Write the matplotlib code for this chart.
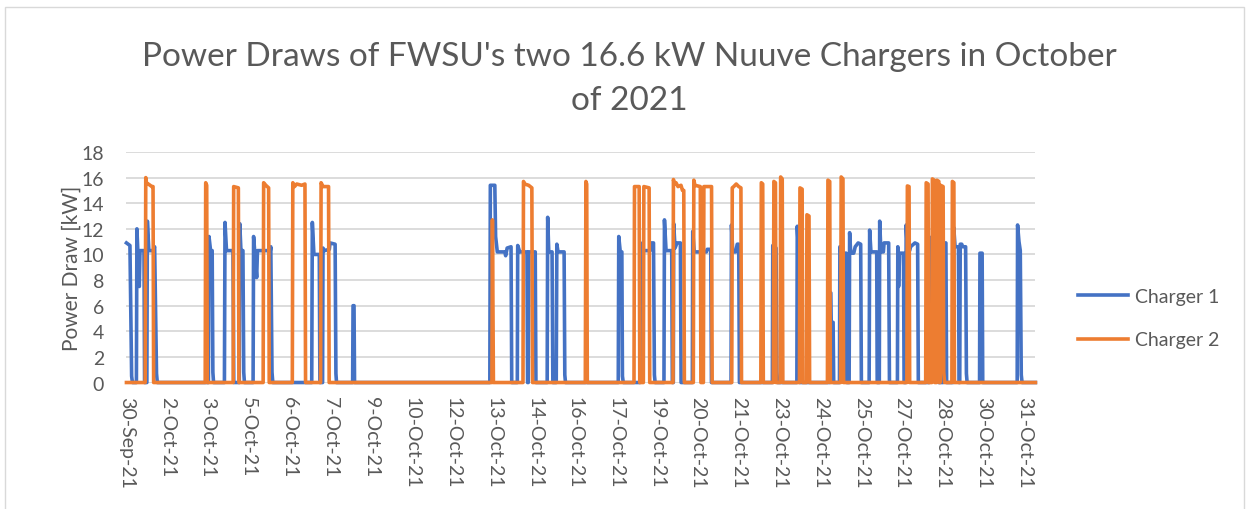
import matplotlib.pyplot as plt
from matplotlib.patches import Rectangle

# readings index: one tick label every 41 readings
tick_labels = ["30-Sep-21", "2-Oct-21", "3-Oct-21", "5-Oct-21", "6-Oct-21", "7-Oct-21",
               "9-Oct-21", "10-Oct-21", "12-Oct-21", "13-Oct-21", "14-Oct-21", "16-Oct-21",
               "17-Oct-21", "19-Oct-21", "20-Oct-21", "21-Oct-21", "23-Oct-21", "24-Oct-21",
               "25-Oct-21", "27-Oct-21", "28-Oct-21", "30-Oct-21", "31-Oct-21"]
readings_per_label = 41
n_readings = 913

# Charger 1 (reading index, kW)
c1_x = [0, 3.5, 5.2, 6,
        10, 10.5, 12.9, 13.6, 17.6, 18.2,
        20.5, 21, 22.5, 26.6, 28.3, 30.2, 31,
        82.3, 82.9, 84.5, 86.1, 86.8, 87.5,
        98.4, 99, 100.5, 107, 107.8,
        113.3, 113.8, 115, 117, 117.8, 118.5,
        127.2, 127.7, 130.8, 131.6, 137, 144.5, 145, 146.2, 147,
        186.1, 186.7, 188.3, 193.7, 194.3,
        197, 197.4, 199, 203.8, 204.5, 209.6, 210.4, 211,
        227.2, 227.6, 228.6, 229.1,
        365, 365.5, 370, 370.8, 372.5, 380, 380.9, 382.4, 386.3, 387,
        392.6, 393, 395, 402.3, 402.9, 403.6, 404.2, 410.6, 411.3,
        422.6, 423.1, 424.2, 427.5, 428.3, 431.7, 432.3, 433.5, 439.6, 440.3, 441,
        494, 494.5, 496, 497.6, 498.2, 499,
        515.8, 516.3, 519.4, 526, 527, 529.4, 530.3, 531,
        539.9, 540.4, 542, 547.7, 548.3,
        549.3, 549.7, 551, 553, 556.4, 557.1,
        568.4, 568.8, 570.3, 577.5, 578.1, 578.8, 582.6, 583.3, 586.9, 587.6,
        607.3, 607.7, 609, 612, 613.5, 615, 615.7,
        648.8, 649.2, 652.5, 653.3, 654,
        673.4, 673.8, 675, 675.9, 676.4,
        706.3, 706.7, 707.5, 707.9, 709.8, 710.4,
        716.2, 716.6, 717.8, 723, 723.6, 725.9, 726.4, 727.5, 730.5, 732, 735, 737.5, 738.2,
        746, 746.5, 747.8, 753.6, 754.1,
        756.2, 756.6, 757.8, 760.3, 761, 765.6, 766.4,
        774.4, 774.8, 775.6, 776.6, 780.5, 781.1,
        782.7, 783.2, 784.4, 786.7, 787.6, 792, 794.7, 795.4,
        806.3, 806.7, 808, 813, 813.5, 815.2, 815.8,
        820.3, 820.8, 823.1, 823.8,
        830.5, 831, 832.3, 835.7, 836.3, 837, 837.5, 839, 840, 842.9, 843.7, 844.4,
        856.9, 857.3, 859.5, 860.1,
        894.7, 895.1, 896.5, 897.8, 898.8, 899.6,
        913]
c1_kw = [10.9, 10.7, 0.5, 0,
         0, 12.0, 7.5, 10.3, 10.3, 0,
         0, 12.6, 10.3, 10.3, 10.6, 0.7, 0,
         0, 11.4, 10.3, 10.3, 0.8, 0,
         0, 12.5, 10.3, 10.3, 0,
         0, 12.4, 10.3, 10.3, 0.8, 0,
         0, 11.4, 8.2, 10.3, 10.3, 10.3, 10.6, 0.8, 0,
         0, 12.5, 10.0, 10.0, 0,
         0, 10.5, 10.3, 10.4, 10.9, 10.8, 0.7, 0,
         0, 6.0, 6.0, 0,
         0, 15.4, 15.4, 11.4, 10.2, 10.2, 9.9, 10.5, 10.6, 0,
         0, 10.7, 10.2, 10.2, 0, 0, 10.2, 10.2, 0,
         0, 12.9, 10.2, 10.2, 0, 0, 10.8, 10.2, 10.2, 0.6, 0,
         0, 11.4, 10.2, 10.2, 0.5, 0,
         0, 10.9, 10.3, 10.3, 10.9, 10.9, 0.6, 0,
         0, 12.7, 10.3, 10.3, 0,
         0, 12.4, 10.5, 10.9, 10.9, 0,
         0, 11.8, 10.2, 10.2, 11.9, 10.2, 10.2, 10.4, 10.4, 0,
         0, 12.3, 10.2, 10.2, 10.8, 10.8, 0,
         0, 10.7, 10.5, 0.8, 0,
         0, 12.2, 10.3, 10.3, 0,
         0, 7.0, 7.0, 4.7, 4.7, 0,
         0, 10.6, 10.1, 10.1, 0, 0, 11.7, 10.1, 10.1, 10.6, 10.9, 10.8, 0,
         0, 11.9, 10.2, 10.2, 0,
         0, 12.6, 10.2, 10.2, 10.9, 10.9, 0,
         0, 10.6, 7.5, 10.1, 10.1, 0,
         0, 12.3, 10.3, 10.3, 10.6, 10.9, 10.8, 0,
         0, 11.35, 10.3, 10.3, 10.6, 10.6, 0,
         0, 10.9, 10.9, 0,
         0, 12.1, 10.6, 10.6, 0, 0, 10.8, 10.8, 10.6, 10.6, 0.7, 0,
         0, 10.1, 10.1, 0,
         0, 12.3, 11.0, 10.3, 0.6, 0,
         0]

# Charger 2 (reading index, kW)
c2_x = [0, 18.8, 19.4, 20.3, 22, 25.5, 26.7, 27.3,
        79.1, 79.6, 80.6, 81.2,
        107.2, 107.7, 112.4, 113,
        137.3, 137.8, 140, 142.8, 143.4,
        166.6, 167.1, 168.8, 171, 176, 179.3, 179.9,
        195, 195.5, 197.5, 203, 203.6,
        367.1, 367.6, 368.6,
        398.3, 398.8, 400, 404, 407.2, 407.9,
        460.9, 461.5, 462.3, 462.9,
        509.8, 510.3, 515, 515.6,
        519.2, 519.7, 525, 525.6,
        549, 549.4, 550.5, 552, 554, 557, 558.5, 559.8, 560.4,
        569.4, 569.9, 571, 576.4, 577,
        579.5, 580, 587.7, 588.3,
        608, 608.5, 610, 612.5, 615, 617.2, 617.8,
        637.2, 637.7, 639.1, 639.7,
        649.8, 650.3, 651.9, 652.5,
        656.6, 657.1, 658.7, 659.3,
        676, 676.5, 678.7, 679.3,
        683, 683.5, 685.6, 686.2,
        704.1, 704.6, 706.4, 707,
        717.4, 717.9, 719.7, 720.3,
        783.9, 784.4, 786.1, 786.7,
        802.8, 803.3, 805.2, 805.8,
        809, 809.5, 811.4, 812,
        813.6, 814.1, 816, 816.6,
        817.2, 817.7, 820.3, 820.9, 821.8,
        829.1, 829.6, 831.1, 831.7,
        913]
c2_kw = [0, 0, 16.0, 15.5, 15.5, 15.3, 15.3, 0,
         0, 15.6, 15.4, 0,
         0, 15.3, 15.2, 0,
         0, 15.6, 15.4, 15.2, 0,
         0, 15.6, 15.3, 15.5, 15.4, 15.5, 0,
         0, 15.6, 15.3, 15.3, 0,
         0, 12.7, 0,
         0, 15.7, 15.5, 15.4, 15.2, 0,
         0, 15.7, 15.5, 0,
         0, 15.3, 15.3, 0,
         0, 15.3, 15.2, 0,
         0, 15.85, 15.5, 15.6, 15.3, 15.4, 15.0, 15.0, 0,
         0, 15.8, 15.4, 15.3, 0,
         0, 15.3, 15.3, 0,
         0, 15.2, 15.3, 15.5, 15.3, 15.2, 0,
         0, 15.6, 15.5, 0,
         0, 15.7, 15.6, 0,
         0, 16.05, 15.9, 0,
         0, 15.2, 15.1, 0,
         0, 13.1, 13.0, 0,
         0, 15.8, 15.7, 0,
         0, 16.05, 15.9, 0,
         0, 15.35, 15.3, 0,
         0, 15.6, 15.5, 0,
         0, 15.9, 15.8, 0,
         0, 15.8, 15.7, 0,
         0, 15.4, 15.3, 0.8, 0,
         0, 15.7, 15.6, 0,
         0]

grey = "#595959"
plt.rcParams["font.family"] = ["Lato", "DejaVu Sans"]

fig = plt.figure(figsize=(12.52, 5.10), dpi=100)
ax = fig.add_axes([0.101, 0.248, 0.726, 0.452])

ax.plot(c1_x, c1_kw, color="#4472C4", lw=2.6, label="Charger 1", clip_on=False)
ax.plot(c2_x, c2_kw, color="#ED7D31", lw=2.6, label="Charger 2", clip_on=False)

ax.set_xlim(0, n_readings)
ax.set_ylim(0, 18)
ax.set_yticks(range(0, 19, 2))
ax.set_xticks([i * readings_per_label for i in range(len(tick_labels))])
ax.set_xticklabels(tick_labels, rotation=270, ha="center", va="top")
ax.tick_params(length=0, labelsize=14, colors=grey)
ax.tick_params(axis="x", pad=10)
ax.tick_params(axis="y", pad=16)
ax.grid(axis="y", color="#d9d9d9", lw=1.3)
ax.set_axisbelow(True)
for s in ax.spines.values():
    s.set_visible(False)

ax.set_ylabel("Power Draw [kW]", fontsize=15, color=grey, labelpad=0)
fig.suptitle("Power Draws of FWSU's two 16.6 kW Nuuve Chargers in October\nof 2021",
             x=0.503, y=0.917, fontsize=24, color=grey, linespacing=1.55)

fig.legend(loc="center left", bbox_to_anchor=(0.847, 0.374), frameon=False,
           fontsize=14, labelcolor=grey, handlelength=2.6, handletextpad=0.35,
           labelspacing=1.35)

fig.patches.append(Rectangle((0.004, -0.05), 0.99, 1.034, transform=fig.transFigure,
                             fill=False, edgecolor="#d9d9d9", lw=1))

plt.savefig("out.png", dpi=100)
